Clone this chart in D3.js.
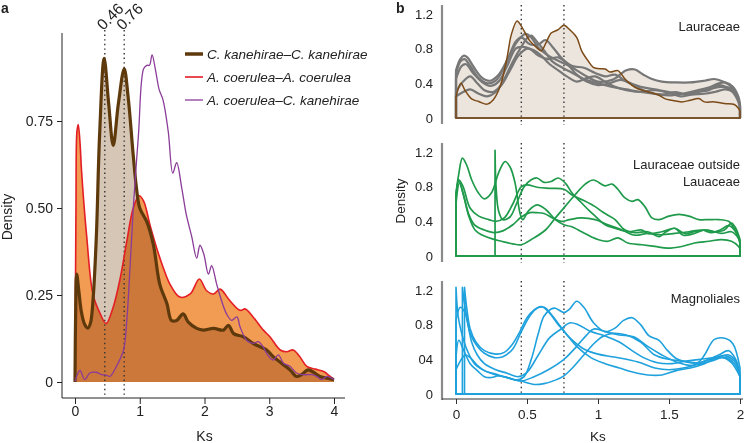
<!DOCTYPE html>
<html><head><meta charset="utf-8">
<script src="https://cdn.jsdelivr.net/npm/d3@7"></script>
<style>
body{margin:0;background:#fff}
svg{display:block}
text{font-family:"Liberation Sans",Arial,Helvetica,sans-serif;fill:#222}
</style>
</head><body>
<svg id="c" width="754" height="443"></svg>
<script>
// ---------------- DATA ----------------
// Panel a: Ks density curves [Ks, density]
const ckDens = [[0,0],[0.01,0.2],[0.026,0.31],[0.06,0.26],[0.1,0.2],[0.15,0.165],[0.2,0.155],[0.24,0.17],[0.28,0.24],[0.33,0.42],[0.38,0.71],[0.45,0.93],[0.52,0.8],[0.59,0.68],[0.67,0.8],[0.76,0.9],[0.82,0.82],[0.9,0.65],[0.95,0.556],[1.0,0.5],[1.11,0.46],[1.21,0.395],[1.31,0.28],[1.42,0.225],[1.49,0.177],[1.57,0.177],[1.67,0.196],[1.75,0.172],[1.88,0.154],[1.98,0.149],[2.14,0.154],[2.29,0.149],[2.37,0.163],[2.45,0.139],[2.6,0.13],[2.75,0.111],[2.86,0.101],[2.96,0.092],[3.06,0.073],[3.19,0.054],[3.32,0.035],[3.42,0.016],[3.5,0.021],[3.6,0.035],[3.7,0.026],[3.78,0.016],[3.89,0.011],[4.0,0.007]];
const acDens = [[0,0],[0.015,0.5],[0.03,0.72],[0.05,0.74],[0.08,0.68],[0.1,0.61],[0.18,0.42],[0.28,0.25],[0.39,0.196],[0.48,0.168],[0.59,0.215],[0.7,0.30],[0.8,0.405],[0.9,0.50],[0.99,0.535],[1.06,0.52],[1.16,0.45],[1.26,0.386],[1.36,0.33],[1.47,0.28],[1.62,0.244],[1.78,0.253],[1.92,0.296],[2.03,0.263],[2.14,0.253],[2.24,0.267],[2.39,0.234],[2.55,0.206],[2.63,0.21],[2.75,0.187],[2.91,0.149],[3.01,0.13],[3.17,0.092],[3.27,0.087],[3.37,0.092],[3.47,0.073],[3.58,0.045],[3.71,0.037],[3.84,0.03],[3.94,0.016],[4.0,0.007]];
const acCkDens = [[0,0.002],[0.077,0.033],[0.15,0.007],[0.23,0.026],[0.33,0.028],[0.41,0.021],[0.48,0.02],[0.54,0.016],[0.64,0.045],[0.75,0.092],[0.8,0.177],[0.85,0.33],[0.9,0.50],[0.98,0.71],[1.06,0.9],[1.11,0.91],[1.15,0.91],[1.19,0.94],[1.24,0.9],[1.3,0.84],[1.36,0.81],[1.44,0.72],[1.51,0.60],[1.57,0.63],[1.65,0.556],[1.72,0.48],[1.8,0.42],[1.88,0.356],[1.93,0.393],[1.99,0.367],[2.06,0.31],[2.11,0.334],[2.19,0.28],[2.27,0.23],[2.34,0.196],[2.42,0.177],[2.5,0.187],[2.55,0.158],[2.65,0.12],[2.75,0.111],[2.83,0.116],[2.91,0.10],[2.96,0.082],[3.06,0.063],[3.14,0.078],[3.22,0.054],[3.32,0.045],[3.42,0.026],[3.53,0.021],[3.66,0.021],[3.73,0.016],[3.81,0.007],[3.89,0.016],[4.0,0.007]];
const legendLabels = ["C. kanehirae\u2013C. kanehirae","A. coerulea\u2013A. coerulea","A. coerulea\u2013C. kanehirae"];
const peakKs = [0.46, 0.76];
const peakLabels = ["0.46","0.76"];
const aXTicks = [0,1,2,3,4];
const aYTicks = [0,0.25,0.5,0.75];
const aYLabels = ["0","0.25","0.50","0.75"];

// Panel b: Lauraceae
const lauCk = [[0,0.24],[0.035,0.40],[0.063,0.32],[0.11,0.22],[0.16,0.19],[0.22,0.16],[0.26,0.205],[0.31,0.36],[0.36,0.70],[0.39,0.965],[0.43,1.12],[0.46,1.06],[0.52,0.89],[0.57,0.81],[0.6,0.775],[0.64,0.89],[0.67,0.98],[0.72,1.02],[0.76,1.07],[0.8,1.02],[0.85,0.93],[0.885,0.775],[0.93,0.66],[0.967,0.585],[1.0,0.57],[1.05,0.566],[1.085,0.53],[1.14,0.547],[1.19,0.45],[1.24,0.376],[1.28,0.338],[1.355,0.30],[1.43,0.262],[1.47,0.224],[1.52,0.205],[1.59,0.186],[1.65,0.205],[1.71,0.224],[1.75,0.186],[1.82,0.186],[1.89,0.167],[1.96,0.156],[1.99,0.11],[2.0,0.08]];
const lauG1 = [[0,0.55],[0.03,0.68],[0.055,0.72],[0.08,0.7],[0.12,0.6],[0.18,0.47],[0.24,0.43],[0.3,0.5],[0.37,0.7],[0.43,0.88],[0.49,0.97],[0.53,0.93],[0.58,0.81],[0.65,0.72],[0.72,0.66],[0.8,0.6],[0.9,0.5],[1.0,0.42],[1.1,0.44],[1.2,0.55],[1.26,0.56],[1.32,0.5],[1.38,0.45],[1.45,0.42],[1.55,0.41],[1.65,0.41],[1.75,0.43],[1.82,0.45],[1.88,0.42],[1.94,0.36],[1.98,0.25],[2.0,0.15]];
const lauG2 = [[0,0.5],[0.03,0.65],[0.06,0.68],[0.1,0.6],[0.16,0.46],[0.22,0.4],[0.28,0.43],[0.35,0.62],[0.42,0.88],[0.46,0.93],[0.52,0.85],[0.58,0.85],[0.63,0.9],[0.68,0.82],[0.75,0.68],[0.82,0.6],[0.9,0.58],[0.98,0.52],[1.05,0.48],[1.12,0.5],[1.2,0.42],[1.3,0.36],[1.4,0.33],[1.5,0.3],[1.6,0.28],[1.7,0.3],[1.8,0.34],[1.87,0.36],[1.93,0.33],[1.98,0.22],[2.0,0.12]];
const lauG3 = [[0,0.45],[0.04,0.6],[0.07,0.62],[0.12,0.52],[0.18,0.42],[0.24,0.37],[0.3,0.42],[0.36,0.6],[0.42,0.8],[0.46,0.82],[0.52,0.8],[0.58,0.72],[0.65,0.68],[0.72,0.7],[0.78,0.63],[0.85,0.5],[0.92,0.42],[1.0,0.38],[1.08,0.4],[1.16,0.44],[1.25,0.38],[1.35,0.3],[1.45,0.27],[1.55,0.3],[1.62,0.27],[1.7,0.3],[1.78,0.32],[1.85,0.38],[1.9,0.36],[1.95,0.33],[1.99,0.2],[2.0,0.14]];
const lauG4 = [[0,0.3],[0.05,0.42],[0.1,0.48],[0.15,0.4],[0.2,0.32],[0.26,0.3],[0.32,0.38],[0.38,0.55],[0.44,0.72],[0.5,0.8],[0.55,0.78],[0.6,0.72],[0.66,0.62],[0.72,0.55],[0.78,0.48],[0.85,0.42],[0.92,0.46],[0.98,0.48],[1.05,0.42],[1.12,0.36],[1.2,0.32],[1.3,0.3],[1.4,0.32],[1.5,0.29],[1.58,0.25],[1.66,0.27],[1.75,0.28],[1.82,0.3],[1.9,0.33],[1.95,0.3],[1.99,0.2],[2.0,0.12]];
const lauG5 = [[0,0.25],[0.05,0.3],[0.1,0.33],[0.16,0.28],[0.22,0.25],[0.28,0.3],[0.34,0.45],[0.4,0.65],[0.46,0.82],[0.5,0.92],[0.53,0.95],[0.57,0.88],[0.62,0.78],[0.68,0.65],[0.75,0.58],[0.82,0.52],[0.9,0.45],[1.0,0.4],[1.1,0.36],[1.2,0.33],[1.3,0.3],[1.4,0.28],[1.5,0.26],[1.6,0.28],[1.7,0.32],[1.78,0.35],[1.85,0.4],[1.9,0.41],[1.95,0.36],[1.99,0.24],[2.0,0.15]];

// Panel b: Lauraceae outside Lauraceae
const outA = [[0,0.72],[0.02,0.95],[0.045,1.13],[0.075,1.05],[0.11,0.88],[0.157,0.73],[0.2,0.66],[0.25,0.73],[0.3,0.96],[0.345,1.09],[0.38,1.03],[0.415,0.85],[0.45,0.5],[0.47,0.42],[0.51,0.52],[0.57,0.59],[0.63,0.54],[0.7,0.42],[0.76,0.36],[0.81,0.34],[0.885,0.28],[0.955,0.22],[1.0,0.19],[1.07,0.17],[1.14,0.21],[1.21,0.15],[1.31,0.13],[1.4,0.11],[1.49,0.09],[1.59,0.11],[1.68,0.15],[1.78,0.17],[1.87,0.19],[1.94,0.17],[1.99,0.11],[2.0,0.08]];
const outB = [[0,0.7],[0.02,0.88],[0.05,0.8],[0.1,0.55],[0.16,0.46],[0.23,0.42],[0.28,0.4],[0.34,0.44],[0.4,0.6],[0.46,0.8],[0.5,0.82],[0.58,0.79],[0.66,0.78],[0.76,0.77],[0.82,0.7],[0.9,0.64],[0.98,0.57],[1.03,0.51],[1.07,0.47],[1.12,0.42],[1.19,0.30],[1.26,0.27],[1.35,0.28],[1.43,0.224],[1.48,0.28],[1.54,0.32],[1.6,0.24],[1.68,0.26],[1.75,0.30],[1.82,0.28],[1.89,0.30],[1.94,0.38],[1.97,0.32],[2.0,0.19]];
const outC = [[0,0.68],[0.02,0.87],[0.05,0.72],[0.09,0.46],[0.134,0.3],[0.18,0.245],[0.25,0.2],[0.32,0.17],[0.4,0.14],[0.46,0.13],[0.53,0.19],[0.63,0.3],[0.7,0.44],[0.77,0.575],[0.84,0.71],[0.91,0.83],[0.967,0.877],[1.05,0.81],[1.1,0.83],[1.14,0.77],[1.19,0.67],[1.24,0.63],[1.28,0.65],[1.33,0.57],[1.38,0.44],[1.43,0.42],[1.5,0.46],[1.57,0.48],[1.64,0.46],[1.71,0.42],[1.78,0.42],[1.85,0.42],[1.92,0.40],[1.95,0.34],[1.99,0.22],[2.0,0.15]];
const outD = [[0.275,1.22],[0.282,0.8],[0.3,0.52],[0.33,0.42],[0.38,0.45],[0.43,0.62],[0.48,0.8],[0.53,0.88],[0.57,0.9],[0.62,0.85],[0.67,0.86],[0.72,0.9],[0.77,0.84],[0.82,0.72],[0.88,0.62],[0.94,0.52],[0.98,0.46],[1.05,0.36],[1.12,0.32],[1.21,0.28],[1.31,0.3],[1.35,0.26],[1.45,0.28],[1.54,0.32],[1.61,0.26],[1.68,0.28],[1.77,0.30],[1.87,0.26],[1.94,0.28],[1.99,0.2],[2.0,0.14]];
const outE = [[0,0.6],[0.025,0.84],[0.06,0.66],[0.09,0.48],[0.13,0.36],[0.2,0.3],[0.27,0.27],[0.33,0.29],[0.4,0.36],[0.46,0.45],[0.52,0.5],[0.57,0.5],[0.62,0.49],[0.68,0.44],[0.74,0.4],[0.8,0.42],[0.88,0.44],[0.98,0.42],[1.07,0.36],[1.17,0.30],[1.26,0.24],[1.35,0.26],[1.45,0.245],[1.54,0.26],[1.64,0.28],[1.73,0.30],[1.8,0.27],[1.86,0.3],[1.92,0.35],[1.96,0.3],[2.0,0.16]];

// Panel b: Magnoliales
const magM1 = [[0,0.28],[0.03,0.38],[0.065,0.45],[0.1,0.42],[0.15,0.33],[0.2,0.27],[0.3,0.22],[0.4,0.17],[0.46,0.15],[0.5,0.13],[0.55,0.11],[0.62,0.12],[0.7,0.16],[0.76,0.21],[0.82,0.3],[0.9,0.45],[0.97,0.58],[1.03,0.66],[1.1,0.7],[1.2,0.68],[1.3,0.6],[1.4,0.45],[1.5,0.4],[1.6,0.38],[1.7,0.36],[1.8,0.4],[1.9,0.42],[1.96,0.35],[2.0,0.2]];
const magM2 = [[0,0.42],[0.02,0.62],[0.05,0.52],[0.1,0.35],[0.15,0.27],[0.2,0.2],[0.25,0.19],[0.3,0.21],[0.38,0.18],[0.46,0.15],[0.55,0.2],[0.65,0.28],[0.76,0.4],[0.85,0.55],[0.92,0.68],[0.97,0.75],[1.05,0.72],[1.15,0.68],[1.25,0.66],[1.35,0.55],[1.45,0.45],[1.55,0.37],[1.65,0.33],[1.75,0.38],[1.85,0.45],[1.92,0.5],[1.97,0.4],[2.0,0.22]];
const magM3 = [[0,0.85],[0.03,1.0],[0.06,0.95],[0.1,0.7],[0.15,0.55],[0.2,0.47],[0.27,0.42],[0.33,0.43],[0.4,0.52],[0.46,0.72],[0.52,0.9],[0.57,0.99],[0.62,1.0],[0.67,0.92],[0.75,0.75],[0.85,0.55],[0.95,0.42],[1.05,0.35],[1.15,0.3],[1.25,0.25],[1.35,0.22],[1.45,0.22],[1.55,0.27],[1.65,0.3],[1.75,0.35],[1.85,0.43],[1.92,0.45],[1.97,0.38],[2.0,0.22]];
const magM4 = [[0,1.23],[0.015,0.9],[0.04,0.7],[0.08,0.5],[0.13,0.35],[0.2,0.27],[0.28,0.22],[0.36,0.19],[0.43,0.16],[0.48,0.2],[0.53,0.4],[0.58,0.7],[0.62,0.9],[0.67,0.98],[0.7,0.99],[0.76,0.94],[0.8,0.98],[0.85,1.07],[0.9,1.0],[0.97,0.82],[1.05,0.72],[1.12,0.76],[1.18,0.85],[1.24,0.88],[1.3,0.8],[1.36,0.67],[1.43,0.62],[1.48,0.52],[1.55,0.41],[1.62,0.37],[1.7,0.36],[1.75,0.45],[1.82,0.63],[1.9,0.64],[1.95,0.58],[2.0,0.3]];
const magM5 = [[0.045,1.23],[0.055,1.1],[0.08,0.85],[0.11,0.6],[0.15,0.45],[0.2,0.35],[0.28,0.28],[0.36,0.24],[0.44,0.2],[0.5,0.25],[0.58,0.45],[0.66,0.65],[0.74,0.75],[0.8,0.82],[0.86,0.8],[0.95,0.72],[1.05,0.67],[1.15,0.6],[1.24,0.5],[1.32,0.42],[1.42,0.36],[1.52,0.35],[1.62,0.38],[1.72,0.4],[1.82,0.42],[1.9,0.44],[1.96,0.38],[2.0,0.22]];
const magM6 = [[0.06,1.23],[0.075,1.0],[0.1,0.75],[0.14,0.6],[0.2,0.5],[0.28,0.46],[0.34,0.48],[0.4,0.58],[0.45,0.72],[0.5,0.88],[0.55,0.97],[0.6,1.01],[0.65,0.95],[0.72,0.8],[0.8,0.65],[0.9,0.52],[1.0,0.46],[1.1,0.43],[1.2,0.4],[1.3,0.36],[1.4,0.3],[1.5,0.28],[1.6,0.3],[1.7,0.34],[1.8,0.38],[1.88,0.42],[1.94,0.36],[2.0,0.2]];

const panelTitles = [["Lauraceae"],["Lauraceae outside","Lauaceae"],["Magnoliales"]];
const bYTicks = [0,0.4,0.8,1.2];
const bYLabels = [["0","0.4","0.8","1.2"],["0","0.4","0.8","1.2"],["0","04","0.8","1.2"]];
const bXTicks = [0,0.5,1,1.5,2];
const bXLabels = ["0","0.5","1","1.5","2"];

// ---------------- DRAW ----------------
const svg = d3.select("#c");
const FONT = '"Liberation Sans",Arial,Helvetica,sans-serif';

// ===== Panel a =====
const xA = d3.scaleLinear().domain([0,4]).range([75,334]);
const yA = d3.scaleLinear().domain([0,0.75]).range([382,121]);
const areaA = d3.area().x(d=>xA(d[0])).y0(yA(0)).y1(d=>yA(d[1])).curve(d3.curveCatmullRom);
const lineA = d3.line().x(d=>xA(d[0])).y(d=>yA(d[1])).curve(d3.curveCatmullRom);
const gA = svg.append("g");

gA.append("path").datum(acDens).attr("d",areaA).attr("fill","#F29B52");
gA.append("path").datum(ckDens).attr("d",areaA).attr("fill","#D6C6B5").style("mix-blend-mode","multiply");

// dotted peak lines
peakKs.forEach((k,i)=>{
  gA.append("line").attr("x1",xA(k)).attr("x2",xA(k)).attr("y1",30).attr("y2",397)
    .attr("stroke","#333").attr("stroke-width",1.4).attr("stroke-dasharray","1.4,3.2");
  gA.append("text").attr("transform",`translate(${xA(k)-1.5},31) rotate(-45)`)
    .attr("font-size",15.5).text(peakLabels[i]);
});

gA.append("path").datum(acDens).attr("d",lineA).attr("fill","none").attr("stroke","#E31E24").attr("stroke-width",1.6);
gA.append("path").datum(ckDens).attr("d",lineA).attr("fill","none").attr("stroke","#5E390C").attr("stroke-width",3.2).attr("stroke-linejoin","round");
gA.append("path").datum(acCkDens).attr("d",lineA).attr("fill","none").attr("stroke","#8B3C99").attr("stroke-width",1.3);

// axes
gA.append("line").attr("x1",62).attr("x2",62).attr("y1",33).attr("y2",398).attr("stroke","#222").attr("stroke-width",1);
gA.append("line").attr("x1",62).attr("x2",345).attr("y1",398).attr("y2",398).attr("stroke","#222").attr("stroke-width",1);
const ayG = gA.append("g").attr("transform","translate(62,0)")
  .call(d3.axisLeft(yA).tickValues(aYTicks).tickFormat((d,i)=>aYLabels[i]).tickSize(5).tickPadding(4));
const axG = gA.append("g").attr("transform","translate(0,398)")
  .call(d3.axisBottom(xA).tickValues(aXTicks).tickFormat(d3.format("d")).tickSize(6).tickPadding(2));
[ayG,axG].forEach(g=>{g.select(".domain").remove();g.attr("font-size",14).attr("font-family",FONT);
  g.selectAll("line").attr("stroke","#222");g.selectAll("text").attr("fill","#222");});

gA.append("text").attr("x",xA(2)).attr("y",441).attr("text-anchor","middle").attr("font-size",14).text("Ks");
gA.append("text").attr("transform","translate(12,217) rotate(-90)").attr("text-anchor","middle").attr("font-size",14).text("Density");
gA.append("text").attr("x",1).attr("y",13).attr("font-size",14).attr("font-weight","bold").text("a");

// legend
const legColors = ["#5E390C","#E31E24","#8B3C99"];
const legWidths = [3.5,1.6,1.3];
legendLabels.forEach((lab,i)=>{
  const y = 54 + i*23;
  gA.append("line").attr("x1",185).attr("x2",203).attr("y1",y).attr("y2",y).attr("stroke",legColors[i]).attr("stroke-width",legWidths[i]);
  gA.append("text").attr("x",207).attr("y",y+5).attr("font-size",13.5).attr("font-style","italic").text(lab);
});

// ===== Panel b =====
const xB = d3.scaleLinear().domain([0,2]).range([456,740]);
const bases = [118,256,394];
const panels = [
  {curves:[lauG1,lauG2,lauG3,lauG4,lauG5,lauCk], colors:["#777","#777","#777","#777","#777","#7B4A17"], widths:[2.2,2.2,2.2,2.2,2.2,1.5], fill:"#ECE5DE"},
  {curves:[outA,outB,outC,outD,outE], colors:Array(5).fill("#1F9A4B"), widths:Array(5).fill(1.7), fill:null},
  {curves:[magM1,magM2,magM3,magM4,magM5,magM6], colors:Array(6).fill("#1FA1DD"), widths:Array(6).fill(1.6), fill:null}
];

panels.forEach((p,pi)=>{
  const base = bases[pi];
  const yB = d3.scaleLinear().domain([0,1.2]).range([base, base-104]);
  const g = svg.append("g");
  const areaB = d3.area().x(d=>xB(d[0])).y0(yB(0)).y1(d=>yB(d[1])).curve(d3.curveCatmullRom);
  if(p.fill){
    p.curves.forEach(c=>g.append("path").datum(c).attr("d",areaB).attr("fill",p.fill));
  }
  // dotted lines
  peakKs.forEach(k=>{
    g.append("line").attr("x1",xB(k)).attr("x2",xB(k)).attr("y1",base-113).attr("y2",pi===2?base:base+7)
      .attr("stroke","#333").attr("stroke-width",1.4).attr("stroke-dasharray","1.4,3.2");
  });
  p.curves.forEach((c,ci)=>{
    g.append("path").datum(c).attr("d",areaB).attr("fill","none")
      .attr("stroke",p.colors[ci]).attr("stroke-width",p.widths[ci]).attr("stroke-linejoin","round");
  });
  // y axis
  g.append("line").attr("x1",442).attr("x2",442).attr("y1",base-113).attr("y2",base+6).attr("stroke","#8a8a8a").attr("stroke-width",2.2);
  const yg = g.append("g").attr("transform","translate(442,0)")
    .call(d3.axisLeft(yB).tickValues(bYTicks).tickFormat((d,i)=>bYLabels[pi][i]).tickSize(0).tickPadding(9));
  yg.select(".domain").remove();
  yg.attr("font-size",13).attr("font-family",FONT);
  yg.selectAll("text").attr("fill","#222");
  // title
  panelTitles[pi].forEach((t,ti)=>{
    g.append("text").attr("x",740).attr("y",(pi===0?31:pi===1?169:303)+ti*16.5)
      .attr("text-anchor","end").attr("font-size",13).text(t);
  });
  if(pi===2){
    g.append("line").attr("x1",442).attr("x2",743).attr("y1",399).attr("y2",399).attr("stroke","#333").attr("stroke-width",1);
    const xg = g.append("g").attr("transform","translate(0,399)")
      .call(d3.axisBottom(xB).tickValues(bXTicks).tickFormat((d,i)=>bXLabels[i]).tickSize(5).tickPadding(5));
    xg.select(".domain").remove();
    xg.attr("font-size",13.5).attr("font-family",FONT);
    xg.selectAll("line").attr("stroke","#333");
    xg.selectAll("text").attr("fill","#222");
    g.append("text").attr("x",xB(1)).attr("y",441).attr("text-anchor","middle").attr("font-size",13.5).text("Ks");
  }
});
svg.append("text").attr("transform","translate(405,201) rotate(-90)").attr("text-anchor","middle").attr("font-size",13.5).text("Density");
svg.append("text").attr("x",396).attr("y",13).attr("font-size",14).attr("font-weight","bold").text("b");
</script>
</body></html>
